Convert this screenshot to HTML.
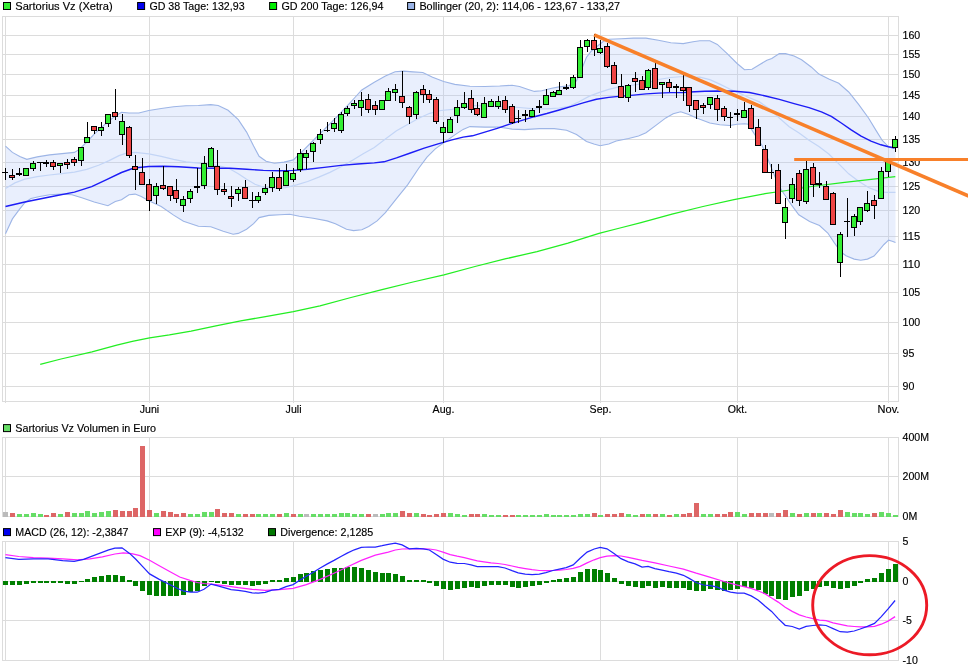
<!DOCTYPE html>
<html><head><meta charset="utf-8"><title>Chart</title>
<style>html,body{margin:0;padding:0;background:#fff}svg{display:block;will-change:transform}</style></head>
<body>
<svg width="968" height="670" viewBox="0 0 968 670" font-family="Liberation Sans, sans-serif" font-size="10.3" fill="#000"><style>text{stroke:#000;stroke-width:0.15px}</style>
<rect width="968" height="670" fill="#fff"/>
<line x1="2.5" y1="35.5" x2="898.5" y2="35.5" stroke="#dcdcdc" stroke-width="1"/>
<line x1="2.5" y1="54.5" x2="898.5" y2="54.5" stroke="#dcdcdc" stroke-width="1"/>
<line x1="2.5" y1="74.5" x2="898.5" y2="74.5" stroke="#dcdcdc" stroke-width="1"/>
<line x1="2.5" y1="95.5" x2="898.5" y2="95.5" stroke="#dcdcdc" stroke-width="1"/>
<line x1="2.5" y1="116.5" x2="898.5" y2="116.5" stroke="#dcdcdc" stroke-width="1"/>
<line x1="2.5" y1="139.5" x2="898.5" y2="139.5" stroke="#dcdcdc" stroke-width="1"/>
<line x1="2.5" y1="162.5" x2="898.5" y2="162.5" stroke="#dcdcdc" stroke-width="1"/>
<line x1="2.5" y1="186.5" x2="898.5" y2="186.5" stroke="#dcdcdc" stroke-width="1"/>
<line x1="2.5" y1="210.5" x2="898.5" y2="210.5" stroke="#dcdcdc" stroke-width="1"/>
<line x1="2.5" y1="236.5" x2="898.5" y2="236.5" stroke="#dcdcdc" stroke-width="1"/>
<line x1="2.5" y1="264.5" x2="898.5" y2="264.5" stroke="#dcdcdc" stroke-width="1"/>
<line x1="2.5" y1="292.5" x2="898.5" y2="292.5" stroke="#dcdcdc" stroke-width="1"/>
<line x1="2.5" y1="322.5" x2="898.5" y2="322.5" stroke="#dcdcdc" stroke-width="1"/>
<line x1="2.5" y1="353.5" x2="898.5" y2="353.5" stroke="#dcdcdc" stroke-width="1"/>
<line x1="2.5" y1="386.5" x2="898.5" y2="386.5" stroke="#dcdcdc" stroke-width="1"/>
<line x1="5.5" y1="16.5" x2="5.5" y2="403.0" stroke="#dcdcdc" stroke-width="1"/>
<line x1="149.5" y1="16.5" x2="149.5" y2="403.0" stroke="#dcdcdc" stroke-width="1"/>
<line x1="293.5" y1="16.5" x2="293.5" y2="403.0" stroke="#dcdcdc" stroke-width="1"/>
<line x1="443.5" y1="16.5" x2="443.5" y2="403.0" stroke="#dcdcdc" stroke-width="1"/>
<line x1="600.5" y1="16.5" x2="600.5" y2="403.0" stroke="#dcdcdc" stroke-width="1"/>
<line x1="737.5" y1="16.5" x2="737.5" y2="403.0" stroke="#dcdcdc" stroke-width="1"/>
<line x1="888.5" y1="16.5" x2="888.5" y2="403.0" stroke="#dcdcdc" stroke-width="1"/>
<rect x="2.5" y="16.5" width="896.0" height="385.0" fill="none" stroke="#dcdcdc" stroke-width="1"/>
<polygon points="5.5,146.2 12.4,152.4 19.8,156.4 26.8,159.3 37.2,156.9 49.6,154.9 62.0,153.6 74.4,152.4 79.3,149.4 86.8,142.0 94.2,134.1 101.7,127.1 109.1,120.9 115.3,116.0 121.5,112.2 129.0,113.0 138.9,113.0 148.8,110.5 161.2,108.5 173.6,106.8 186.0,105.8 198.4,105.5 210.8,104.6 218.2,105.5 228.1,110.3 238.3,119.7 246.6,132.1 253.6,146.0 259.1,156.3 266.1,161.3 274.4,163.2 284.1,162.1 293.3,159.9 302.1,151.6 313.2,140.5 324.3,129.4 335.4,118.3 346.5,106.6 354.9,97.5 361.8,90.0 374.3,82.2 385.4,76.1 395.1,71.7 403.4,71.1 413.1,71.9 422.8,72.5 432.6,77.2 443.7,81.6 454.8,84.4 469.9,86.2 484.8,86.5 499.7,86.0 512.1,85.2 519.5,86.5 528.2,89.4 534.4,91.4 541.8,90.7 551.7,88.2 559.2,86.9 569.1,85.7 576.5,80.8 581.5,69.6 586.5,57.2 591.4,51.0 597.6,46.0 603.8,41.1 608.8,39.3 621.2,38.8 633.6,38.1 646.0,38.1 658.4,40.3 670.8,42.8 683.2,43.6 693.1,41.8 699.9,40.7 709.8,40.7 717.3,44.4 727.2,53.6 737.1,63.5 744.5,69.7 752.0,69.2 759.4,64.7 766.9,60.3 771.8,58.5 779.3,53.6 785.5,53.6 794.1,56.0 801.6,59.8 811.5,67.2 818.9,74.1 828.8,79.1 838.8,83.3 848.7,92.0 858.6,104.4 868.5,118.0 876.0,130.4 882.3,140.5 888.6,146.8 895.5,148.0 895.5,242.4 892.2,241.2 888.6,240.1 884.0,244.5 879.0,250.3 874.0,256.1 867.4,259.1 860.8,260.2 854.2,259.1 846.0,255.8 841.0,252.0 834.4,242.9 827.8,233.0 819.5,225.5 809.6,221.4 798.8,214.8 791.4,204.9 784.8,195.0 781.7,190.5 776.8,181.3 771.8,168.9 766.9,156.5 761.9,145.3 754.5,134.1 748.3,124.2 744.5,123.7 737.1,124.2 729.7,125.5 719.8,124.7 709.8,123.0 699.9,119.3 695.5,117.4 688.1,114.2 680.7,111.7 673.2,113.7 665.8,117.9 655.9,125.4 646.0,132.8 638.5,136.0 628.6,138.5 616.2,141.0 608.8,144.0 600.1,145.7 593.9,144.0 586.5,141.5 576.5,134.6 566.6,130.3 554.2,128.6 539.3,128.6 524.5,129.6 512.1,129.1 499.7,127.1 484.8,127.1 469.9,126.6 463.1,129.4 454.8,134.9 443.7,142.7 435.3,148.8 427.0,157.1 418.7,168.2 407.6,184.9 396.5,198.7 385.4,212.6 377.1,220.9 368.7,226.5 361.8,229.8 353.5,230.6 346.5,229.3 335.4,223.7 327.1,220.9 313.2,218.2 299.4,216.2 289.7,214.3 279.9,214.8 268.8,215.4 259.1,217.6 253.6,223.7 246.6,229.3 238.3,233.4 233.1,234.2 223.2,231.3 210.8,226.8 198.4,226.3 183.5,221.3 173.6,215.1 161.2,206.5 148.8,200.8 141.3,196.5 135.1,194.1 129.0,194.8 121.5,199.8 115.3,201.5 107.9,205.7 94.2,202.0 81.8,197.8 71.9,194.8 62.0,194.1 49.6,194.8 39.7,196.5 31.0,198.5 24.8,202.7 19.8,208.9 12.4,218.9 5.5,233.7" fill="rgb(170,195,247)" fill-opacity="0.26"/>
<polyline points="5.5,188.6 14.9,182.9 24.8,179.2 37.2,176.7 49.6,175.0 62.0,173.7 74.4,172.2 86.8,169.3 99.2,165.0 109.1,160.6 119.0,155.6 126.5,153.1 135.1,152.4 148.8,153.9 161.2,156.4 173.6,159.3 186.0,161.8 198.4,163.1 210.8,164.3 223.2,166.8 230.0,169.0 238.3,173.8 246.6,179.3 255.0,184.3 263.3,187.1 274.4,188.5 285.5,187.6 296.6,184.9 307.7,181.5 318.8,177.1 329.9,172.4 341.0,166.8 352.1,160.4 363.2,153.8 374.3,147.4 385.4,139.1 396.5,130.8 407.6,124.4 418.7,118.3 429.8,113.3 440.9,110.5 452.0,109.4 463.1,107.2 474.9,105.5 489.8,106.3 504.6,106.8 519.5,107.5 534.4,108.8 546.8,108.8 559.2,108.0 569.1,106.3 579.0,101.8 588.9,96.4 598.8,92.6 608.8,89.4 621.2,86.4 633.6,85.0 646.0,83.2 658.4,79.5 670.8,77.5 683.2,76.5 693.1,77.5 699.9,77.1 709.8,79.6 719.8,84.1 729.7,89.0 739.6,93.2 749.5,97.7 759.4,101.9 769.3,108.8 779.3,118.0 789.2,126.7 799.1,132.9 809.0,140.3 818.9,146.5 828.8,154.0 838.8,163.9 848.7,173.8 858.6,181.3 868.5,187.5 878.4,191.4 885.9,192.4 895.5,192.4" fill="none" stroke="#c3d5f6" stroke-width="1.2"/>
<polyline points="5.5,146.2 12.4,152.4 19.8,156.4 26.8,159.3 37.2,156.9 49.6,154.9 62.0,153.6 74.4,152.4 79.3,149.4 86.8,142.0 94.2,134.1 101.7,127.1 109.1,120.9 115.3,116.0 121.5,112.2 129.0,113.0 138.9,113.0 148.8,110.5 161.2,108.5 173.6,106.8 186.0,105.8 198.4,105.5 210.8,104.6 218.2,105.5 228.1,110.3 238.3,119.7 246.6,132.1 253.6,146.0 259.1,156.3 266.1,161.3 274.4,163.2 284.1,162.1 293.3,159.9 302.1,151.6 313.2,140.5 324.3,129.4 335.4,118.3 346.5,106.6 354.9,97.5 361.8,90.0 374.3,82.2 385.4,76.1 395.1,71.7 403.4,71.1 413.1,71.9 422.8,72.5 432.6,77.2 443.7,81.6 454.8,84.4 469.9,86.2 484.8,86.5 499.7,86.0 512.1,85.2 519.5,86.5 528.2,89.4 534.4,91.4 541.8,90.7 551.7,88.2 559.2,86.9 569.1,85.7 576.5,80.8 581.5,69.6 586.5,57.2 591.4,51.0 597.6,46.0 603.8,41.1 608.8,39.3 621.2,38.8 633.6,38.1 646.0,38.1 658.4,40.3 670.8,42.8 683.2,43.6 693.1,41.8 699.9,40.7 709.8,40.7 717.3,44.4 727.2,53.6 737.1,63.5 744.5,69.7 752.0,69.2 759.4,64.7 766.9,60.3 771.8,58.5 779.3,53.6 785.5,53.6 794.1,56.0 801.6,59.8 811.5,67.2 818.9,74.1 828.8,79.1 838.8,83.3 848.7,92.0 858.6,104.4 868.5,118.0 876.0,130.4 882.3,140.5 888.6,146.8 895.5,148.0" fill="none" stroke="#9db5e6" stroke-width="1.1"/>
<polyline points="5.5,233.7 12.4,218.9 19.8,208.9 24.8,202.7 31.0,198.5 39.7,196.5 49.6,194.8 62.0,194.1 71.9,194.8 81.8,197.8 94.2,202.0 107.9,205.7 115.3,201.5 121.5,199.8 129.0,194.8 135.1,194.1 141.3,196.5 148.8,200.8 161.2,206.5 173.6,215.1 183.5,221.3 198.4,226.3 210.8,226.8 223.2,231.3 233.1,234.2 238.3,233.4 246.6,229.3 253.6,223.7 259.1,217.6 268.8,215.4 279.9,214.8 289.7,214.3 299.4,216.2 313.2,218.2 327.1,220.9 335.4,223.7 346.5,229.3 353.5,230.6 361.8,229.8 368.7,226.5 377.1,220.9 385.4,212.6 396.5,198.7 407.6,184.9 418.7,168.2 427.0,157.1 435.3,148.8 443.7,142.7 454.8,134.9 463.1,129.4 469.9,126.6 484.8,127.1 499.7,127.1 512.1,129.1 524.5,129.6 539.3,128.6 554.2,128.6 566.6,130.3 576.5,134.6 586.5,141.5 593.9,144.0 600.1,145.7 608.8,144.0 616.2,141.0 628.6,138.5 638.5,136.0 646.0,132.8 655.9,125.4 665.8,117.9 673.2,113.7 680.7,111.7 688.1,114.2 695.5,117.4 699.9,119.3 709.8,123.0 719.8,124.7 729.7,125.5 737.1,124.2 744.5,123.7 748.3,124.2 754.5,134.1 761.9,145.3 766.9,156.5 771.8,168.9 776.8,181.3 781.7,190.5 784.8,195.0 791.4,204.9 798.8,214.8 809.6,221.4 819.5,225.5 827.8,233.0 834.4,242.9 841.0,252.0 846.0,255.8 854.2,259.1 860.8,260.2 867.4,259.1 874.0,256.1 879.0,250.3 884.0,244.5 888.6,240.1 892.2,241.2 895.5,242.4" fill="none" stroke="#9db5e6" stroke-width="1.1"/>
<polyline points="40.2,364.3 61.0,359.0 92.0,351.9 116.8,345.1 132.3,341.4 149.6,337.9 169.4,334.9 191.1,331.1 215.9,325.9 240.7,320.9 265.5,316.6 293.4,311.6 320.0,305.8 351.0,297.5 382.0,289.7 413.0,282.0 444.0,274.9 475.0,266.5 506.0,258.7 537.0,251.6 568.0,243.2 599.0,233.3 620.0,228.0 641.0,222.6 672.0,214.2 703.0,206.5 734.0,199.7 765.0,193.7 783.5,191.0 811.4,186.5 842.4,182.6 873.4,179.2 895.3,176.6" fill="none" stroke="#22ee22" stroke-width="1.25"/>
<polyline points="5.5,206.5 24.8,202.0 49.6,197.0 74.4,192.1 91.7,186.6 106.6,179.7 121.5,172.5 133.9,168.0 148.8,166.5 163.6,166.3 178.5,166.8 198.4,168.0 218.2,168.3 230.0,168.2 246.6,169.3 263.3,170.4 279.9,170.7 293.8,170.4 307.7,169.3 324.3,167.4 341.0,165.4 357.6,164.0 374.3,162.9 384.0,161.8 396.5,157.9 410.4,153.0 424.2,148.2 438.1,143.8 452.0,139.9 463.1,137.1 472.4,135.8 484.8,132.1 497.2,128.4 509.6,124.1 522.0,120.4 534.4,116.7 546.8,113.5 559.2,110.0 571.6,106.3 584.0,102.6 596.4,99.3 608.8,97.4 618.7,96.4 633.6,95.1 646.0,93.9 658.4,93.1 670.8,92.6 683.2,92.6 690.0,92.0 704.9,91.2 719.8,91.0 734.6,91.2 749.5,92.5 764.4,95.7 779.3,99.4 794.1,103.6 809.0,107.6 821.4,111.8 831.3,116.3 841.3,123.0 851.2,129.9 861.1,136.1 871.0,141.1 880.9,144.8 888.4,146.8 894.5,148.0" fill="none" stroke="#1c1cf6" stroke-width="1.4" stroke-linejoin="round"/>
<g shape-rendering="crispEdges">
<rect x="5" y="168" width="1" height="12" fill="#000"/>
<rect x="2" y="172" width="6" height="1" fill="#000"/>
<rect x="12" y="169" width="1" height="11" fill="#000"/>
<rect x="9" y="175" width="6" height="3" fill="#000"/>
<rect x="10" y="176" width="4" height="1" fill="#ee4444"/>
<rect x="19" y="168" width="1" height="8" fill="#000"/>
<rect x="16" y="173" width="6" height="2" fill="#000"/>
<rect x="26" y="169" width="1" height="7" fill="#000"/>
<rect x="23" y="168" width="6" height="8" fill="#000"/>
<rect x="24" y="169" width="4" height="6" fill="#33ee33"/>
<rect x="33" y="161" width="1" height="10" fill="#000"/>
<rect x="30" y="163" width="6" height="6" fill="#000"/>
<rect x="31" y="164" width="4" height="4" fill="#33ee33"/>
<rect x="40" y="162" width="1" height="9" fill="#000"/>
<rect x="37" y="162" width="6" height="1" fill="#000"/>
<rect x="46" y="160" width="1" height="7" fill="#000"/>
<rect x="43" y="162" width="6" height="2" fill="#000"/>
<rect x="53" y="160" width="1" height="10" fill="#000"/>
<rect x="50" y="162" width="6" height="5" fill="#000"/>
<rect x="51" y="163" width="4" height="3" fill="#ee4444"/>
<rect x="60" y="164" width="1" height="9" fill="#000"/>
<rect x="57" y="163" width="6" height="3" fill="#000"/>
<rect x="58" y="164" width="4" height="1" fill="#33ee33"/>
<rect x="67" y="159" width="1" height="10" fill="#000"/>
<rect x="64" y="162" width="6" height="3" fill="#000"/>
<rect x="65" y="163" width="4" height="1" fill="#ee4444"/>
<rect x="74" y="157" width="1" height="9" fill="#000"/>
<rect x="71" y="159" width="6" height="4" fill="#000"/>
<rect x="72" y="160" width="4" height="2" fill="#ee4444"/>
<rect x="81" y="147" width="1" height="19" fill="#000"/>
<rect x="78" y="147" width="6" height="14" fill="#000"/>
<rect x="79" y="148" width="4" height="12" fill="#33ee33"/>
<rect x="87" y="122" width="1" height="20" fill="#000"/>
<rect x="84" y="137" width="6" height="6" fill="#000"/>
<rect x="85" y="138" width="4" height="4" fill="#33ee33"/>
<rect x="94" y="127" width="1" height="7" fill="#000"/>
<rect x="91" y="126" width="6" height="5" fill="#000"/>
<rect x="92" y="127" width="4" height="3" fill="#ee4444"/>
<rect x="101" y="122" width="1" height="14" fill="#000"/>
<rect x="98" y="127" width="6" height="4" fill="#000"/>
<rect x="99" y="128" width="4" height="2" fill="#33ee33"/>
<rect x="108" y="114" width="1" height="13" fill="#000"/>
<rect x="105" y="114" width="6" height="10" fill="#000"/>
<rect x="106" y="115" width="4" height="8" fill="#33ee33"/>
<rect x="115" y="89" width="1" height="31" fill="#000"/>
<rect x="112" y="112" width="6" height="5" fill="#000"/>
<rect x="113" y="113" width="4" height="3" fill="#ee4444"/>
<rect x="122" y="114" width="1" height="31" fill="#000"/>
<rect x="119" y="121" width="6" height="14" fill="#000"/>
<rect x="120" y="122" width="4" height="12" fill="#33ee33"/>
<rect x="129" y="126" width="1" height="32" fill="#000"/>
<rect x="126" y="127" width="6" height="29" fill="#000"/>
<rect x="127" y="128" width="4" height="27" fill="#ee4444"/>
<rect x="135" y="155" width="1" height="35" fill="#000"/>
<rect x="132" y="166" width="6" height="4" fill="#000"/>
<rect x="133" y="167" width="4" height="2" fill="#ee4444"/>
<rect x="142" y="158" width="1" height="26" fill="#000"/>
<rect x="139" y="172" width="6" height="13" fill="#000"/>
<rect x="140" y="173" width="4" height="11" fill="#ee4444"/>
<rect x="149" y="179" width="1" height="32" fill="#000"/>
<rect x="146" y="184" width="6" height="17" fill="#000"/>
<rect x="147" y="185" width="4" height="15" fill="#ee4444"/>
<rect x="156" y="183" width="1" height="21" fill="#000"/>
<rect x="153" y="186" width="6" height="10" fill="#000"/>
<rect x="154" y="187" width="4" height="8" fill="#33ee33"/>
<rect x="163" y="166" width="1" height="24" fill="#000"/>
<rect x="160" y="185" width="6" height="4" fill="#000"/>
<rect x="161" y="186" width="4" height="2" fill="#ee4444"/>
<rect x="170" y="186" width="1" height="15" fill="#000"/>
<rect x="167" y="186" width="6" height="10" fill="#000"/>
<rect x="168" y="187" width="4" height="8" fill="#ee4444"/>
<rect x="176" y="179" width="1" height="24" fill="#000"/>
<rect x="173" y="190" width="6" height="9" fill="#000"/>
<rect x="174" y="191" width="4" height="7" fill="#ee4444"/>
<rect x="183" y="196" width="1" height="16" fill="#000"/>
<rect x="180" y="199" width="6" height="7" fill="#000"/>
<rect x="181" y="200" width="4" height="5" fill="#33ee33"/>
<rect x="190" y="189" width="1" height="14" fill="#000"/>
<rect x="187" y="191" width="6" height="8" fill="#000"/>
<rect x="188" y="192" width="4" height="6" fill="#33ee33"/>
<rect x="197" y="168" width="1" height="25" fill="#000"/>
<rect x="194" y="186" width="6" height="2" fill="#000"/>
<rect x="204" y="156" width="1" height="33" fill="#000"/>
<rect x="201" y="163" width="6" height="23" fill="#000"/>
<rect x="202" y="164" width="4" height="21" fill="#33ee33"/>
<rect x="211" y="147" width="1" height="19" fill="#000"/>
<rect x="208" y="148" width="6" height="19" fill="#000"/>
<rect x="209" y="149" width="4" height="17" fill="#33ee33"/>
<rect x="217" y="150" width="1" height="45" fill="#000"/>
<rect x="214" y="166" width="6" height="24" fill="#000"/>
<rect x="215" y="167" width="4" height="22" fill="#ee4444"/>
<rect x="224" y="183" width="1" height="12" fill="#000"/>
<rect x="221" y="189" width="6" height="3" fill="#000"/>
<rect x="222" y="190" width="4" height="1" fill="#ee4444"/>
<rect x="231" y="186" width="1" height="21" fill="#000"/>
<rect x="228" y="196" width="6" height="3" fill="#000"/>
<rect x="229" y="197" width="4" height="1" fill="#ee4444"/>
<rect x="238" y="187" width="1" height="14" fill="#000"/>
<rect x="235" y="189" width="6" height="5" fill="#000"/>
<rect x="236" y="190" width="4" height="3" fill="#33ee33"/>
<rect x="245" y="180" width="1" height="18" fill="#000"/>
<rect x="242" y="187" width="6" height="12" fill="#000"/>
<rect x="243" y="188" width="4" height="10" fill="#ee4444"/>
<rect x="252" y="192" width="1" height="16" fill="#000"/>
<rect x="249" y="200" width="6" height="1" fill="#000"/>
<rect x="258" y="192" width="1" height="11" fill="#000"/>
<rect x="255" y="196" width="6" height="5" fill="#000"/>
<rect x="256" y="197" width="4" height="3" fill="#33ee33"/>
<rect x="265" y="184" width="1" height="11" fill="#000"/>
<rect x="262" y="188" width="6" height="5" fill="#000"/>
<rect x="263" y="189" width="4" height="3" fill="#33ee33"/>
<rect x="272" y="172" width="1" height="20" fill="#000"/>
<rect x="269" y="177" width="6" height="11" fill="#000"/>
<rect x="270" y="178" width="4" height="9" fill="#33ee33"/>
<rect x="279" y="168" width="1" height="23" fill="#000"/>
<rect x="276" y="177" width="6" height="12" fill="#000"/>
<rect x="277" y="178" width="4" height="10" fill="#ee4444"/>
<rect x="286" y="164" width="1" height="22" fill="#000"/>
<rect x="283" y="171" width="6" height="15" fill="#000"/>
<rect x="284" y="172" width="4" height="13" fill="#33ee33"/>
<rect x="293" y="168" width="1" height="14" fill="#000"/>
<rect x="290" y="173" width="6" height="7" fill="#000"/>
<rect x="291" y="174" width="4" height="5" fill="#33ee33"/>
<rect x="300" y="149" width="1" height="23" fill="#000"/>
<rect x="297" y="153" width="6" height="17" fill="#000"/>
<rect x="298" y="154" width="4" height="15" fill="#33ee33"/>
<rect x="306" y="150" width="1" height="19" fill="#000"/>
<rect x="303" y="153" width="6" height="5" fill="#000"/>
<rect x="304" y="154" width="4" height="3" fill="#33ee33"/>
<rect x="313" y="142" width="1" height="20" fill="#000"/>
<rect x="310" y="143" width="6" height="9" fill="#000"/>
<rect x="311" y="144" width="4" height="7" fill="#33ee33"/>
<rect x="320" y="129" width="1" height="15" fill="#000"/>
<rect x="317" y="134" width="6" height="6" fill="#000"/>
<rect x="318" y="135" width="4" height="4" fill="#33ee33"/>
<rect x="327" y="122" width="1" height="10" fill="#000"/>
<rect x="324" y="130" width="6" height="1" fill="#000"/>
<rect x="334" y="118" width="1" height="14" fill="#000"/>
<rect x="331" y="123" width="6" height="6" fill="#000"/>
<rect x="332" y="124" width="4" height="4" fill="#33ee33"/>
<rect x="341" y="112" width="1" height="21" fill="#000"/>
<rect x="338" y="114" width="6" height="17" fill="#000"/>
<rect x="339" y="115" width="4" height="15" fill="#33ee33"/>
<rect x="347" y="106" width="1" height="10" fill="#000"/>
<rect x="344" y="108" width="6" height="6" fill="#000"/>
<rect x="345" y="109" width="4" height="4" fill="#33ee33"/>
<rect x="354" y="100" width="1" height="9" fill="#000"/>
<rect x="351" y="103" width="6" height="3" fill="#000"/>
<rect x="352" y="104" width="4" height="1" fill="#33ee33"/>
<rect x="361" y="92" width="1" height="24" fill="#000"/>
<rect x="358" y="100" width="6" height="8" fill="#000"/>
<rect x="359" y="101" width="4" height="6" fill="#33ee33"/>
<rect x="368" y="94" width="1" height="19" fill="#000"/>
<rect x="365" y="99" width="6" height="11" fill="#000"/>
<rect x="366" y="100" width="4" height="9" fill="#ee4444"/>
<rect x="375" y="101" width="1" height="14" fill="#000"/>
<rect x="372" y="105" width="6" height="5" fill="#000"/>
<rect x="373" y="106" width="4" height="3" fill="#ee4444"/>
<rect x="382" y="101" width="1" height="8" fill="#000"/>
<rect x="379" y="100" width="6" height="10" fill="#000"/>
<rect x="380" y="101" width="4" height="8" fill="#33ee33"/>
<rect x="388" y="88" width="1" height="13" fill="#000"/>
<rect x="385" y="91" width="6" height="10" fill="#000"/>
<rect x="386" y="92" width="4" height="8" fill="#33ee33"/>
<rect x="395" y="84" width="1" height="17" fill="#000"/>
<rect x="392" y="89" width="6" height="4" fill="#000"/>
<rect x="393" y="90" width="4" height="2" fill="#33ee33"/>
<rect x="402" y="71" width="1" height="37" fill="#000"/>
<rect x="399" y="96" width="6" height="7" fill="#000"/>
<rect x="400" y="97" width="4" height="5" fill="#ee4444"/>
<rect x="409" y="106" width="1" height="18" fill="#000"/>
<rect x="406" y="107" width="6" height="10" fill="#000"/>
<rect x="407" y="108" width="4" height="8" fill="#ee4444"/>
<rect x="416" y="91" width="1" height="28" fill="#000"/>
<rect x="413" y="92" width="6" height="23" fill="#000"/>
<rect x="414" y="93" width="4" height="21" fill="#33ee33"/>
<rect x="423" y="85" width="1" height="18" fill="#000"/>
<rect x="420" y="89" width="6" height="6" fill="#000"/>
<rect x="421" y="90" width="4" height="4" fill="#ee4444"/>
<rect x="429" y="90" width="1" height="13" fill="#000"/>
<rect x="426" y="94" width="6" height="6" fill="#000"/>
<rect x="427" y="95" width="4" height="4" fill="#ee4444"/>
<rect x="436" y="97" width="1" height="27" fill="#000"/>
<rect x="433" y="99" width="6" height="23" fill="#000"/>
<rect x="434" y="100" width="4" height="21" fill="#ee4444"/>
<rect x="443" y="122" width="1" height="21" fill="#000"/>
<rect x="440" y="127" width="6" height="6" fill="#000"/>
<rect x="441" y="128" width="4" height="4" fill="#33ee33"/>
<rect x="450" y="117" width="1" height="15" fill="#000"/>
<rect x="447" y="119" width="6" height="14" fill="#000"/>
<rect x="448" y="120" width="4" height="12" fill="#33ee33"/>
<rect x="457" y="100" width="1" height="23" fill="#000"/>
<rect x="454" y="107" width="6" height="9" fill="#000"/>
<rect x="455" y="108" width="4" height="7" fill="#33ee33"/>
<rect x="464" y="92" width="1" height="17" fill="#000"/>
<rect x="461" y="103" width="6" height="5" fill="#000"/>
<rect x="462" y="104" width="4" height="3" fill="#33ee33"/>
<rect x="471" y="90" width="1" height="23" fill="#000"/>
<rect x="468" y="98" width="6" height="12" fill="#000"/>
<rect x="469" y="99" width="4" height="10" fill="#ee4444"/>
<rect x="477" y="102" width="1" height="14" fill="#000"/>
<rect x="474" y="108" width="6" height="7" fill="#000"/>
<rect x="475" y="109" width="4" height="5" fill="#ee4444"/>
<rect x="484" y="97" width="1" height="20" fill="#000"/>
<rect x="481" y="103" width="6" height="15" fill="#000"/>
<rect x="482" y="104" width="4" height="13" fill="#33ee33"/>
<rect x="491" y="99" width="1" height="7" fill="#000"/>
<rect x="488" y="101" width="6" height="6" fill="#000"/>
<rect x="489" y="102" width="4" height="4" fill="#33ee33"/>
<rect x="498" y="96" width="1" height="13" fill="#000"/>
<rect x="495" y="101" width="6" height="6" fill="#000"/>
<rect x="496" y="102" width="4" height="4" fill="#33ee33"/>
<rect x="505" y="96" width="1" height="17" fill="#000"/>
<rect x="502" y="100" width="6" height="10" fill="#000"/>
<rect x="503" y="101" width="4" height="8" fill="#ee4444"/>
<rect x="512" y="104" width="1" height="20" fill="#000"/>
<rect x="509" y="106" width="6" height="17" fill="#000"/>
<rect x="510" y="107" width="4" height="15" fill="#ee4444"/>
<rect x="518" y="110" width="1" height="13" fill="#000"/>
<rect x="515" y="118" width="6" height="1" fill="#000"/>
<rect x="525" y="110" width="1" height="12" fill="#000"/>
<rect x="522" y="114" width="6" height="2" fill="#000"/>
<rect x="532" y="108" width="1" height="9" fill="#000"/>
<rect x="529" y="110" width="6" height="7" fill="#000"/>
<rect x="530" y="111" width="4" height="5" fill="#33ee33"/>
<rect x="539" y="100" width="1" height="13" fill="#000"/>
<rect x="536" y="106" width="6" height="2" fill="#000"/>
<rect x="546" y="89" width="1" height="15" fill="#000"/>
<rect x="543" y="95" width="6" height="10" fill="#000"/>
<rect x="544" y="96" width="4" height="8" fill="#33ee33"/>
<rect x="553" y="91" width="1" height="5" fill="#000"/>
<rect x="550" y="92" width="6" height="5" fill="#000"/>
<rect x="551" y="93" width="4" height="3" fill="#33ee33"/>
<rect x="559" y="82" width="1" height="13" fill="#000"/>
<rect x="556" y="90" width="6" height="5" fill="#000"/>
<rect x="557" y="91" width="4" height="3" fill="#33ee33"/>
<rect x="566" y="84" width="1" height="6" fill="#000"/>
<rect x="563" y="87" width="6" height="2" fill="#000"/>
<rect x="573" y="75" width="1" height="14" fill="#000"/>
<rect x="570" y="77" width="6" height="11" fill="#000"/>
<rect x="571" y="78" width="4" height="9" fill="#33ee33"/>
<rect x="580" y="40" width="1" height="38" fill="#000"/>
<rect x="577" y="47" width="6" height="31" fill="#000"/>
<rect x="578" y="48" width="4" height="29" fill="#33ee33"/>
<rect x="587" y="39" width="1" height="13" fill="#000"/>
<rect x="584" y="40" width="6" height="7" fill="#000"/>
<rect x="585" y="41" width="4" height="5" fill="#33ee33"/>
<rect x="594" y="34" width="1" height="22" fill="#000"/>
<rect x="591" y="40" width="6" height="10" fill="#000"/>
<rect x="592" y="41" width="4" height="8" fill="#ee4444"/>
<rect x="600" y="40" width="1" height="14" fill="#000"/>
<rect x="597" y="48" width="6" height="5" fill="#000"/>
<rect x="598" y="49" width="4" height="3" fill="#33ee33"/>
<rect x="607" y="43" width="1" height="25" fill="#000"/>
<rect x="604" y="46" width="6" height="21" fill="#000"/>
<rect x="605" y="47" width="4" height="19" fill="#ee4444"/>
<rect x="614" y="62" width="1" height="21" fill="#000"/>
<rect x="611" y="65" width="6" height="19" fill="#000"/>
<rect x="612" y="66" width="4" height="17" fill="#ee4444"/>
<rect x="621" y="74" width="1" height="23" fill="#000"/>
<rect x="618" y="86" width="6" height="12" fill="#000"/>
<rect x="619" y="87" width="4" height="10" fill="#ee4444"/>
<rect x="628" y="84" width="1" height="18" fill="#000"/>
<rect x="625" y="85" width="6" height="13" fill="#000"/>
<rect x="626" y="86" width="4" height="11" fill="#33ee33"/>
<rect x="635" y="72" width="1" height="20" fill="#000"/>
<rect x="632" y="78" width="6" height="4" fill="#000"/>
<rect x="633" y="79" width="4" height="2" fill="#ee4444"/>
<rect x="642" y="76" width="1" height="13" fill="#000"/>
<rect x="639" y="80" width="6" height="10" fill="#000"/>
<rect x="640" y="81" width="4" height="8" fill="#ee4444"/>
<rect x="648" y="69" width="1" height="21" fill="#000"/>
<rect x="645" y="70" width="6" height="18" fill="#000"/>
<rect x="646" y="71" width="4" height="16" fill="#33ee33"/>
<rect x="655" y="63" width="1" height="25" fill="#000"/>
<rect x="652" y="68" width="6" height="21" fill="#000"/>
<rect x="653" y="69" width="4" height="19" fill="#ee4444"/>
<rect x="662" y="82" width="1" height="16" fill="#000"/>
<rect x="659" y="82" width="6" height="3" fill="#000"/>
<rect x="660" y="83" width="4" height="1" fill="#33ee33"/>
<rect x="669" y="79" width="1" height="13" fill="#000"/>
<rect x="666" y="82" width="6" height="6" fill="#000"/>
<rect x="667" y="83" width="4" height="4" fill="#ee4444"/>
<rect x="676" y="84" width="1" height="14" fill="#000"/>
<rect x="673" y="86" width="6" height="2" fill="#000"/>
<rect x="683" y="75" width="1" height="26" fill="#000"/>
<rect x="680" y="87" width="6" height="4" fill="#000"/>
<rect x="681" y="88" width="4" height="2" fill="#ee4444"/>
<rect x="689" y="88" width="1" height="24" fill="#000"/>
<rect x="686" y="87" width="6" height="19" fill="#000"/>
<rect x="687" y="88" width="4" height="17" fill="#ee4444"/>
<rect x="696" y="100" width="1" height="19" fill="#000"/>
<rect x="693" y="100" width="6" height="10" fill="#000"/>
<rect x="694" y="101" width="4" height="8" fill="#ee4444"/>
<rect x="703" y="103" width="1" height="11" fill="#000"/>
<rect x="700" y="105" width="6" height="3" fill="#000"/>
<rect x="701" y="106" width="4" height="1" fill="#ee4444"/>
<rect x="710" y="97" width="1" height="12" fill="#000"/>
<rect x="707" y="97" width="6" height="8" fill="#000"/>
<rect x="708" y="98" width="4" height="6" fill="#33ee33"/>
<rect x="717" y="95" width="1" height="26" fill="#000"/>
<rect x="714" y="98" width="6" height="12" fill="#000"/>
<rect x="715" y="99" width="4" height="10" fill="#ee4444"/>
<rect x="724" y="106" width="1" height="15" fill="#000"/>
<rect x="721" y="108" width="6" height="9" fill="#000"/>
<rect x="722" y="109" width="4" height="7" fill="#ee4444"/>
<rect x="730" y="112" width="1" height="16" fill="#000"/>
<rect x="727" y="117" width="6" height="1" fill="#000"/>
<rect x="737" y="109" width="1" height="12" fill="#000"/>
<rect x="734" y="113" width="6" height="2" fill="#000"/>
<rect x="744" y="102" width="1" height="16" fill="#000"/>
<rect x="741" y="110" width="6" height="8" fill="#000"/>
<rect x="742" y="111" width="4" height="6" fill="#33ee33"/>
<rect x="751" y="105" width="1" height="23" fill="#000"/>
<rect x="748" y="108" width="6" height="21" fill="#000"/>
<rect x="749" y="109" width="4" height="19" fill="#ee4444"/>
<rect x="758" y="119" width="1" height="27" fill="#000"/>
<rect x="755" y="127" width="6" height="19" fill="#000"/>
<rect x="756" y="128" width="4" height="17" fill="#ee4444"/>
<rect x="765" y="145" width="1" height="27" fill="#000"/>
<rect x="762" y="149" width="6" height="24" fill="#000"/>
<rect x="763" y="150" width="4" height="22" fill="#ee4444"/>
<rect x="771" y="164" width="1" height="15" fill="#000"/>
<rect x="768" y="172" width="6" height="1" fill="#000"/>
<rect x="778" y="164" width="1" height="40" fill="#000"/>
<rect x="775" y="170" width="6" height="34" fill="#000"/>
<rect x="776" y="171" width="4" height="32" fill="#ee4444"/>
<rect x="785" y="198" width="1" height="41" fill="#000"/>
<rect x="782" y="207" width="6" height="16" fill="#000"/>
<rect x="783" y="208" width="4" height="14" fill="#33ee33"/>
<rect x="792" y="178" width="1" height="25" fill="#000"/>
<rect x="789" y="184" width="6" height="15" fill="#000"/>
<rect x="790" y="185" width="4" height="13" fill="#33ee33"/>
<rect x="799" y="170" width="1" height="36" fill="#000"/>
<rect x="796" y="173" width="6" height="28" fill="#000"/>
<rect x="797" y="174" width="4" height="26" fill="#ee4444"/>
<rect x="806" y="161" width="1" height="43" fill="#000"/>
<rect x="803" y="169" width="6" height="33" fill="#000"/>
<rect x="804" y="170" width="4" height="31" fill="#33ee33"/>
<rect x="813" y="163" width="1" height="34" fill="#000"/>
<rect x="810" y="167" width="6" height="18" fill="#000"/>
<rect x="811" y="168" width="4" height="16" fill="#ee4444"/>
<rect x="819" y="172" width="1" height="16" fill="#000"/>
<rect x="816" y="183" width="6" height="2" fill="#000"/>
<rect x="826" y="181" width="1" height="18" fill="#000"/>
<rect x="823" y="186" width="6" height="14" fill="#000"/>
<rect x="824" y="187" width="4" height="12" fill="#ee4444"/>
<rect x="833" y="192" width="1" height="32" fill="#000"/>
<rect x="830" y="193" width="6" height="32" fill="#000"/>
<rect x="831" y="194" width="4" height="30" fill="#ee4444"/>
<rect x="840" y="232" width="1" height="45" fill="#000"/>
<rect x="837" y="234" width="6" height="29" fill="#000"/>
<rect x="838" y="235" width="4" height="27" fill="#33ee33"/>
<rect x="847" y="198" width="1" height="39" fill="#000"/>
<rect x="844" y="221" width="6" height="1" fill="#000"/>
<rect x="854" y="214" width="1" height="22" fill="#000"/>
<rect x="851" y="216" width="6" height="12" fill="#000"/>
<rect x="852" y="217" width="4" height="10" fill="#33ee33"/>
<rect x="860" y="208" width="1" height="17" fill="#000"/>
<rect x="857" y="207" width="6" height="15" fill="#000"/>
<rect x="858" y="208" width="4" height="13" fill="#33ee33"/>
<rect x="867" y="191" width="1" height="21" fill="#000"/>
<rect x="864" y="203" width="6" height="8" fill="#000"/>
<rect x="865" y="204" width="4" height="6" fill="#33ee33"/>
<rect x="874" y="195" width="1" height="24" fill="#000"/>
<rect x="871" y="200" width="6" height="6" fill="#000"/>
<rect x="872" y="201" width="4" height="4" fill="#ee4444"/>
<rect x="881" y="167" width="1" height="31" fill="#000"/>
<rect x="878" y="171" width="6" height="28" fill="#000"/>
<rect x="879" y="172" width="4" height="26" fill="#33ee33"/>
<rect x="888" y="161" width="1" height="16" fill="#000"/>
<rect x="885" y="161" width="6" height="11" fill="#000"/>
<rect x="886" y="162" width="4" height="9" fill="#33ee33"/>
<rect x="895" y="136" width="1" height="16" fill="#000"/>
<rect x="892" y="139" width="6" height="9" fill="#000"/>
<rect x="893" y="140" width="4" height="7" fill="#33ee33"/>
</g>
<text x="902.5" y="39.0" textLength="17.7" lengthAdjust="spacingAndGlyphs">160</text>
<text x="902.5" y="58.0" textLength="17.7" lengthAdjust="spacingAndGlyphs">155</text>
<text x="902.5" y="78.0" textLength="17.7" lengthAdjust="spacingAndGlyphs">150</text>
<text x="902.5" y="99.0" textLength="17.7" lengthAdjust="spacingAndGlyphs">145</text>
<text x="902.5" y="120.0" textLength="17.7" lengthAdjust="spacingAndGlyphs">140</text>
<text x="902.5" y="143.0" textLength="17.7" lengthAdjust="spacingAndGlyphs">135</text>
<text x="902.5" y="166.0" textLength="17.7" lengthAdjust="spacingAndGlyphs">130</text>
<text x="902.5" y="190.0" textLength="17.7" lengthAdjust="spacingAndGlyphs">125</text>
<text x="902.5" y="214.0" textLength="17.7" lengthAdjust="spacingAndGlyphs">120</text>
<text x="902.5" y="240.0" textLength="17.7" lengthAdjust="spacingAndGlyphs">115</text>
<text x="902.5" y="268.0" textLength="17.7" lengthAdjust="spacingAndGlyphs">110</text>
<text x="902.5" y="296.0" textLength="17.7" lengthAdjust="spacingAndGlyphs">105</text>
<text x="902.5" y="326.0" textLength="17.7" lengthAdjust="spacingAndGlyphs">100</text>
<text x="902.5" y="357.0" textLength="11.8" lengthAdjust="spacingAndGlyphs">95</text>
<text x="902.5" y="390.0" textLength="11.8" lengthAdjust="spacingAndGlyphs">90</text>
<text x="139.8" y="412.5" textLength="19.4" lengthAdjust="spacingAndGlyphs">Juni</text>
<text x="285.6" y="412.5" textLength="15.9" lengthAdjust="spacingAndGlyphs">Juli</text>
<text x="432.6" y="412.5" textLength="21.8" lengthAdjust="spacingAndGlyphs">Aug.</text>
<text x="589.6" y="412.5" textLength="21.8" lengthAdjust="spacingAndGlyphs">Sep.</text>
<text x="727.8" y="412.5" textLength="19.4" lengthAdjust="spacingAndGlyphs">Okt.</text>
<text x="877.6" y="412.5" textLength="21.8" lengthAdjust="spacingAndGlyphs">Nov.</text>
<line x1="594.1" y1="34.9" x2="975" y2="198.8" stroke="#f8802a" stroke-width="3.6"/>
<line x1="794.2" y1="159.5" x2="975" y2="159.5" stroke="#f8802a" stroke-width="3.1"/>
<line x1="2.5" y1="476.5" x2="898.5" y2="476.5" stroke="#dcdcdc" stroke-width="1"/>
<line x1="5.5" y1="437.5" x2="5.5" y2="516.5" stroke="#dcdcdc" stroke-width="1"/>
<line x1="149.5" y1="437.5" x2="149.5" y2="516.5" stroke="#dcdcdc" stroke-width="1"/>
<line x1="293.5" y1="437.5" x2="293.5" y2="516.5" stroke="#dcdcdc" stroke-width="1"/>
<line x1="443.5" y1="437.5" x2="443.5" y2="516.5" stroke="#dcdcdc" stroke-width="1"/>
<line x1="600.5" y1="437.5" x2="600.5" y2="516.5" stroke="#dcdcdc" stroke-width="1"/>
<line x1="737.5" y1="437.5" x2="737.5" y2="516.5" stroke="#dcdcdc" stroke-width="1"/>
<line x1="888.5" y1="437.5" x2="888.5" y2="516.5" stroke="#dcdcdc" stroke-width="1"/>
<rect x="2.5" y="437.5" width="896.0" height="79.0" fill="none" stroke="#dcdcdc" stroke-width="1"/>
<g shape-rendering="crispEdges">
<rect x="3" y="512" width="5" height="5" fill="#bbbbbb"/>
<rect x="10" y="513" width="5" height="4" fill="#dd6666"/>
<rect x="17" y="514" width="5" height="3" fill="#66dd66"/>
<rect x="24" y="514" width="5" height="3" fill="#66dd66"/>
<rect x="31" y="513" width="5" height="4" fill="#66dd66"/>
<rect x="38" y="514" width="5" height="3" fill="#66dd66"/>
<rect x="44" y="515" width="5" height="2" fill="#dd6666"/>
<rect x="51" y="513" width="5" height="4" fill="#dd6666"/>
<rect x="58" y="514" width="5" height="3" fill="#66dd66"/>
<rect x="65" y="512" width="5" height="5" fill="#dd6666"/>
<rect x="72" y="513" width="5" height="4" fill="#66dd66"/>
<rect x="79" y="513" width="5" height="4" fill="#66dd66"/>
<rect x="85" y="511" width="5" height="6" fill="#66dd66"/>
<rect x="92" y="513" width="5" height="4" fill="#66dd66"/>
<rect x="99" y="512" width="5" height="5" fill="#66dd66"/>
<rect x="106" y="511" width="5" height="6" fill="#66dd66"/>
<rect x="113" y="510" width="5" height="7" fill="#dd6666"/>
<rect x="120" y="511" width="5" height="6" fill="#dd6666"/>
<rect x="127" y="511" width="5" height="6" fill="#dd6666"/>
<rect x="133" y="508" width="5" height="9" fill="#dd6666"/>
<rect x="140" y="446" width="5" height="71" fill="#dd6666"/>
<rect x="147" y="510" width="5" height="7" fill="#dd6666"/>
<rect x="154" y="513" width="5" height="4" fill="#66dd66"/>
<rect x="161" y="511" width="5" height="6" fill="#dd6666"/>
<rect x="168" y="512" width="5" height="5" fill="#dd6666"/>
<rect x="174" y="514" width="5" height="3" fill="#dd6666"/>
<rect x="181" y="513" width="5" height="4" fill="#dd6666"/>
<rect x="188" y="514" width="5" height="3" fill="#66dd66"/>
<rect x="195" y="514" width="5" height="3" fill="#66dd66"/>
<rect x="202" y="512" width="5" height="5" fill="#66dd66"/>
<rect x="209" y="512" width="5" height="5" fill="#66dd66"/>
<rect x="215" y="509" width="5" height="8" fill="#dd6666"/>
<rect x="222" y="513" width="5" height="4" fill="#dd6666"/>
<rect x="229" y="513" width="5" height="4" fill="#dd6666"/>
<rect x="236" y="514" width="5" height="3" fill="#66dd66"/>
<rect x="243" y="514" width="5" height="3" fill="#dd6666"/>
<rect x="250" y="514" width="5" height="3" fill="#dd6666"/>
<rect x="256" y="514" width="5" height="3" fill="#66dd66"/>
<rect x="263" y="514" width="5" height="3" fill="#66dd66"/>
<rect x="270" y="514" width="5" height="3" fill="#66dd66"/>
<rect x="277" y="514" width="5" height="3" fill="#dd6666"/>
<rect x="284" y="513" width="5" height="4" fill="#66dd66"/>
<rect x="291" y="514" width="5" height="3" fill="#dd6666"/>
<rect x="298" y="514" width="5" height="3" fill="#66dd66"/>
<rect x="304" y="514" width="5" height="3" fill="#bbbbbb"/>
<rect x="311" y="514" width="5" height="3" fill="#66dd66"/>
<rect x="318" y="514" width="5" height="3" fill="#66dd66"/>
<rect x="325" y="514" width="5" height="3" fill="#66dd66"/>
<rect x="332" y="514" width="5" height="3" fill="#66dd66"/>
<rect x="339" y="513" width="5" height="4" fill="#66dd66"/>
<rect x="345" y="513" width="5" height="4" fill="#66dd66"/>
<rect x="352" y="514" width="5" height="3" fill="#66dd66"/>
<rect x="359" y="514" width="5" height="3" fill="#66dd66"/>
<rect x="366" y="514" width="5" height="3" fill="#dd6666"/>
<rect x="373" y="514" width="5" height="3" fill="#bbbbbb"/>
<rect x="380" y="514" width="5" height="3" fill="#66dd66"/>
<rect x="386" y="513" width="5" height="4" fill="#66dd66"/>
<rect x="393" y="513" width="5" height="4" fill="#66dd66"/>
<rect x="400" y="511" width="5" height="6" fill="#dd6666"/>
<rect x="407" y="513" width="5" height="4" fill="#dd6666"/>
<rect x="414" y="513" width="5" height="4" fill="#66dd66"/>
<rect x="421" y="514" width="5" height="3" fill="#dd6666"/>
<rect x="427" y="515" width="5" height="2" fill="#dd6666"/>
<rect x="434" y="514" width="5" height="3" fill="#dd6666"/>
<rect x="441" y="513" width="5" height="4" fill="#dd6666"/>
<rect x="448" y="513" width="5" height="4" fill="#66dd66"/>
<rect x="455" y="514" width="5" height="3" fill="#66dd66"/>
<rect x="462" y="515" width="5" height="2" fill="#66dd66"/>
<rect x="469" y="514" width="5" height="3" fill="#dd6666"/>
<rect x="475" y="514" width="5" height="3" fill="#dd6666"/>
<rect x="482" y="514" width="5" height="3" fill="#66dd66"/>
<rect x="489" y="515" width="5" height="2" fill="#66dd66"/>
<rect x="496" y="515" width="5" height="2" fill="#66dd66"/>
<rect x="503" y="515" width="5" height="2" fill="#dd6666"/>
<rect x="510" y="515" width="5" height="2" fill="#dd6666"/>
<rect x="516" y="515" width="5" height="2" fill="#66dd66"/>
<rect x="523" y="515" width="5" height="2" fill="#66dd66"/>
<rect x="530" y="515" width="5" height="2" fill="#66dd66"/>
<rect x="537" y="515" width="5" height="2" fill="#66dd66"/>
<rect x="544" y="514" width="5" height="3" fill="#66dd66"/>
<rect x="551" y="515" width="5" height="2" fill="#66dd66"/>
<rect x="557" y="515" width="5" height="2" fill="#66dd66"/>
<rect x="564" y="515" width="5" height="2" fill="#66dd66"/>
<rect x="571" y="515" width="5" height="2" fill="#66dd66"/>
<rect x="578" y="514" width="5" height="3" fill="#66dd66"/>
<rect x="585" y="514" width="5" height="3" fill="#66dd66"/>
<rect x="592" y="513" width="5" height="4" fill="#dd6666"/>
<rect x="598" y="515" width="5" height="2" fill="#66dd66"/>
<rect x="605" y="514" width="5" height="3" fill="#dd6666"/>
<rect x="612" y="514" width="5" height="3" fill="#dd6666"/>
<rect x="619" y="513" width="5" height="4" fill="#dd6666"/>
<rect x="626" y="514" width="5" height="3" fill="#66dd66"/>
<rect x="633" y="515" width="5" height="2" fill="#66dd66"/>
<rect x="640" y="514" width="5" height="3" fill="#dd6666"/>
<rect x="646" y="514" width="5" height="3" fill="#66dd66"/>
<rect x="653" y="514" width="5" height="3" fill="#dd6666"/>
<rect x="660" y="514" width="5" height="3" fill="#66dd66"/>
<rect x="667" y="515" width="5" height="2" fill="#dd6666"/>
<rect x="674" y="514" width="5" height="3" fill="#66dd66"/>
<rect x="681" y="514" width="5" height="3" fill="#dd6666"/>
<rect x="687" y="513" width="5" height="4" fill="#dd6666"/>
<rect x="694" y="503" width="5" height="14" fill="#dd6666"/>
<rect x="701" y="514" width="5" height="3" fill="#66dd66"/>
<rect x="708" y="514" width="5" height="3" fill="#66dd66"/>
<rect x="715" y="514" width="5" height="3" fill="#dd6666"/>
<rect x="722" y="514" width="5" height="3" fill="#dd6666"/>
<rect x="728" y="512" width="5" height="5" fill="#dd6666"/>
<rect x="735" y="512" width="5" height="5" fill="#66dd66"/>
<rect x="742" y="514" width="5" height="3" fill="#66dd66"/>
<rect x="749" y="513" width="5" height="4" fill="#dd6666"/>
<rect x="756" y="513" width="5" height="4" fill="#dd6666"/>
<rect x="763" y="513" width="5" height="4" fill="#dd6666"/>
<rect x="769" y="513" width="5" height="4" fill="#bbbbbb"/>
<rect x="776" y="513" width="5" height="4" fill="#dd6666"/>
<rect x="783" y="510" width="5" height="7" fill="#dd6666"/>
<rect x="790" y="513" width="5" height="4" fill="#66dd66"/>
<rect x="797" y="514" width="5" height="3" fill="#dd6666"/>
<rect x="804" y="513" width="5" height="4" fill="#66dd66"/>
<rect x="811" y="513" width="5" height="4" fill="#dd6666"/>
<rect x="817" y="513" width="5" height="4" fill="#66dd66"/>
<rect x="824" y="513" width="5" height="4" fill="#dd6666"/>
<rect x="831" y="514" width="5" height="3" fill="#dd6666"/>
<rect x="838" y="510" width="5" height="7" fill="#dd6666"/>
<rect x="845" y="512" width="5" height="5" fill="#66dd66"/>
<rect x="852" y="513" width="5" height="4" fill="#66dd66"/>
<rect x="858" y="513" width="5" height="4" fill="#66dd66"/>
<rect x="865" y="514" width="5" height="3" fill="#66dd66"/>
<rect x="872" y="513" width="5" height="4" fill="#dd6666"/>
<rect x="879" y="512" width="5" height="5" fill="#66dd66"/>
<rect x="886" y="513" width="5" height="4" fill="#66dd66"/>
<rect x="893" y="515" width="5" height="2" fill="#66dd66"/>
</g>
<text x="902.5" y="441.0" textLength="26.5" lengthAdjust="spacingAndGlyphs">400M</text>
<text x="902.5" y="480.0" textLength="26.5" lengthAdjust="spacingAndGlyphs">200M</text>
<text x="902.5" y="520.0" textLength="14.7" lengthAdjust="spacingAndGlyphs">0M</text>
<line x1="2.5" y1="581.5" x2="898.5" y2="581.5" stroke="#dcdcdc" stroke-width="1"/>
<line x1="2.5" y1="620.5" x2="898.5" y2="620.5" stroke="#dcdcdc" stroke-width="1"/>
<line x1="5.5" y1="541.5" x2="5.5" y2="660.5" stroke="#dcdcdc" stroke-width="1"/>
<line x1="149.5" y1="541.5" x2="149.5" y2="660.5" stroke="#dcdcdc" stroke-width="1"/>
<line x1="293.5" y1="541.5" x2="293.5" y2="660.5" stroke="#dcdcdc" stroke-width="1"/>
<line x1="443.5" y1="541.5" x2="443.5" y2="660.5" stroke="#dcdcdc" stroke-width="1"/>
<line x1="600.5" y1="541.5" x2="600.5" y2="660.5" stroke="#dcdcdc" stroke-width="1"/>
<line x1="737.5" y1="541.5" x2="737.5" y2="660.5" stroke="#dcdcdc" stroke-width="1"/>
<line x1="888.5" y1="541.5" x2="888.5" y2="660.5" stroke="#dcdcdc" stroke-width="1"/>
<rect x="2.5" y="541.5" width="896.0" height="119.0" fill="none" stroke="#dcdcdc" stroke-width="1"/>
<g shape-rendering="crispEdges">
<rect x="3" y="581" width="5" height="4" fill="#007f00"/>
<rect x="10" y="581" width="5" height="4" fill="#007f00"/>
<rect x="17" y="581" width="5" height="4" fill="#007f00"/>
<rect x="24" y="581" width="5" height="3" fill="#007f00"/>
<rect x="31" y="581" width="5" height="2" fill="#007f00"/>
<rect x="38" y="581" width="5" height="2" fill="#007f00"/>
<rect x="44" y="581" width="5" height="2" fill="#007f00"/>
<rect x="51" y="581" width="5" height="2" fill="#007f00"/>
<rect x="58" y="581" width="5" height="2" fill="#007f00"/>
<rect x="65" y="581" width="5" height="3" fill="#007f00"/>
<rect x="72" y="581" width="5" height="3" fill="#007f00"/>
<rect x="79" y="581" width="5" height="1" fill="#007f00"/>
<rect x="85" y="579" width="5" height="3" fill="#007f00"/>
<rect x="92" y="577" width="5" height="5" fill="#007f00"/>
<rect x="99" y="576" width="5" height="6" fill="#007f00"/>
<rect x="106" y="575" width="5" height="7" fill="#007f00"/>
<rect x="113" y="575" width="5" height="7" fill="#007f00"/>
<rect x="120" y="576" width="5" height="6" fill="#007f00"/>
<rect x="127" y="580" width="5" height="2" fill="#007f00"/>
<rect x="133" y="581" width="5" height="5" fill="#007f00"/>
<rect x="140" y="581" width="5" height="10" fill="#007f00"/>
<rect x="147" y="581" width="5" height="14" fill="#007f00"/>
<rect x="154" y="581" width="5" height="15" fill="#007f00"/>
<rect x="161" y="581" width="5" height="15" fill="#007f00"/>
<rect x="168" y="581" width="5" height="15" fill="#007f00"/>
<rect x="174" y="581" width="5" height="15" fill="#007f00"/>
<rect x="181" y="581" width="5" height="14" fill="#007f00"/>
<rect x="188" y="581" width="5" height="11" fill="#007f00"/>
<rect x="195" y="581" width="5" height="10" fill="#007f00"/>
<rect x="202" y="581" width="5" height="5" fill="#007f00"/>
<rect x="209" y="581" width="5" height="1" fill="#007f00"/>
<rect x="215" y="581" width="5" height="2" fill="#007f00"/>
<rect x="222" y="581" width="5" height="3" fill="#007f00"/>
<rect x="229" y="581" width="5" height="4" fill="#007f00"/>
<rect x="236" y="581" width="5" height="4" fill="#007f00"/>
<rect x="243" y="581" width="5" height="4" fill="#007f00"/>
<rect x="250" y="581" width="5" height="5" fill="#007f00"/>
<rect x="256" y="581" width="5" height="4" fill="#007f00"/>
<rect x="263" y="581" width="5" height="3" fill="#007f00"/>
<rect x="270" y="580" width="5" height="2" fill="#007f00"/>
<rect x="277" y="580" width="5" height="2" fill="#007f00"/>
<rect x="284" y="578" width="5" height="4" fill="#007f00"/>
<rect x="291" y="577" width="5" height="5" fill="#007f00"/>
<rect x="298" y="574" width="5" height="8" fill="#007f00"/>
<rect x="304" y="573" width="5" height="9" fill="#007f00"/>
<rect x="311" y="571" width="5" height="11" fill="#007f00"/>
<rect x="318" y="570" width="5" height="12" fill="#007f00"/>
<rect x="325" y="569" width="5" height="13" fill="#007f00"/>
<rect x="332" y="568" width="5" height="14" fill="#007f00"/>
<rect x="339" y="568" width="5" height="14" fill="#007f00"/>
<rect x="345" y="567" width="5" height="15" fill="#007f00"/>
<rect x="352" y="567" width="5" height="15" fill="#007f00"/>
<rect x="359" y="568" width="5" height="14" fill="#007f00"/>
<rect x="366" y="570" width="5" height="12" fill="#007f00"/>
<rect x="373" y="572" width="5" height="10" fill="#007f00"/>
<rect x="380" y="573" width="5" height="9" fill="#007f00"/>
<rect x="386" y="573" width="5" height="9" fill="#007f00"/>
<rect x="393" y="574" width="5" height="8" fill="#007f00"/>
<rect x="400" y="576" width="5" height="6" fill="#007f00"/>
<rect x="407" y="580" width="5" height="2" fill="#007f00"/>
<rect x="414" y="580" width="5" height="2" fill="#007f00"/>
<rect x="421" y="580" width="5" height="2" fill="#007f00"/>
<rect x="427" y="581" width="5" height="2" fill="#007f00"/>
<rect x="434" y="581" width="5" height="5" fill="#007f00"/>
<rect x="441" y="581" width="5" height="8" fill="#007f00"/>
<rect x="448" y="581" width="5" height="9" fill="#007f00"/>
<rect x="455" y="581" width="5" height="8" fill="#007f00"/>
<rect x="462" y="581" width="5" height="7" fill="#007f00"/>
<rect x="469" y="581" width="5" height="6" fill="#007f00"/>
<rect x="475" y="581" width="5" height="7" fill="#007f00"/>
<rect x="482" y="581" width="5" height="5" fill="#007f00"/>
<rect x="489" y="581" width="5" height="4" fill="#007f00"/>
<rect x="496" y="581" width="5" height="4" fill="#007f00"/>
<rect x="503" y="581" width="5" height="4" fill="#007f00"/>
<rect x="510" y="581" width="5" height="6" fill="#007f00"/>
<rect x="516" y="581" width="5" height="7" fill="#007f00"/>
<rect x="523" y="581" width="5" height="6" fill="#007f00"/>
<rect x="530" y="581" width="5" height="5" fill="#007f00"/>
<rect x="537" y="581" width="5" height="4" fill="#007f00"/>
<rect x="544" y="581" width="5" height="2" fill="#007f00"/>
<rect x="551" y="580" width="5" height="2" fill="#007f00"/>
<rect x="557" y="579" width="5" height="3" fill="#007f00"/>
<rect x="564" y="578" width="5" height="4" fill="#007f00"/>
<rect x="571" y="577" width="5" height="5" fill="#007f00"/>
<rect x="578" y="572" width="5" height="10" fill="#007f00"/>
<rect x="585" y="569" width="5" height="13" fill="#007f00"/>
<rect x="592" y="569" width="5" height="13" fill="#007f00"/>
<rect x="598" y="570" width="5" height="12" fill="#007f00"/>
<rect x="605" y="573" width="5" height="9" fill="#007f00"/>
<rect x="612" y="578" width="5" height="4" fill="#007f00"/>
<rect x="619" y="581" width="5" height="3" fill="#007f00"/>
<rect x="626" y="581" width="5" height="5" fill="#007f00"/>
<rect x="633" y="581" width="5" height="6" fill="#007f00"/>
<rect x="640" y="581" width="5" height="7" fill="#007f00"/>
<rect x="646" y="581" width="5" height="5" fill="#007f00"/>
<rect x="653" y="581" width="5" height="7" fill="#007f00"/>
<rect x="660" y="581" width="5" height="6" fill="#007f00"/>
<rect x="667" y="581" width="5" height="7" fill="#007f00"/>
<rect x="674" y="581" width="5" height="7" fill="#007f00"/>
<rect x="681" y="581" width="5" height="7" fill="#007f00"/>
<rect x="687" y="581" width="5" height="9" fill="#007f00"/>
<rect x="694" y="581" width="5" height="10" fill="#007f00"/>
<rect x="701" y="581" width="5" height="10" fill="#007f00"/>
<rect x="708" y="581" width="5" height="8" fill="#007f00"/>
<rect x="715" y="581" width="5" height="9" fill="#007f00"/>
<rect x="722" y="581" width="5" height="10" fill="#007f00"/>
<rect x="728" y="581" width="5" height="9" fill="#007f00"/>
<rect x="735" y="581" width="5" height="8" fill="#007f00"/>
<rect x="742" y="581" width="5" height="6" fill="#007f00"/>
<rect x="749" y="581" width="5" height="7" fill="#007f00"/>
<rect x="756" y="581" width="5" height="9" fill="#007f00"/>
<rect x="763" y="581" width="5" height="13" fill="#007f00"/>
<rect x="769" y="581" width="5" height="15" fill="#007f00"/>
<rect x="776" y="581" width="5" height="18" fill="#007f00"/>
<rect x="783" y="581" width="5" height="19" fill="#007f00"/>
<rect x="790" y="581" width="5" height="16" fill="#007f00"/>
<rect x="797" y="581" width="5" height="15" fill="#007f00"/>
<rect x="804" y="581" width="5" height="10" fill="#007f00"/>
<rect x="811" y="581" width="5" height="8" fill="#007f00"/>
<rect x="817" y="581" width="5" height="6" fill="#007f00"/>
<rect x="824" y="581" width="5" height="5" fill="#007f00"/>
<rect x="831" y="581" width="5" height="7" fill="#007f00"/>
<rect x="838" y="581" width="5" height="8" fill="#007f00"/>
<rect x="845" y="581" width="5" height="7" fill="#007f00"/>
<rect x="852" y="581" width="5" height="5" fill="#007f00"/>
<rect x="858" y="581" width="5" height="2" fill="#007f00"/>
<rect x="865" y="579" width="5" height="3" fill="#007f00"/>
<rect x="872" y="578" width="5" height="4" fill="#007f00"/>
<rect x="879" y="573" width="5" height="9" fill="#007f00"/>
<rect x="886" y="569" width="5" height="13" fill="#007f00"/>
<rect x="893" y="564" width="5" height="18" fill="#007f00"/>
</g>
<polyline points="5.4,554.7 18.8,556.5 33.4,557.6 48.1,558.2 62.7,558.8 77.3,559.9 89.9,558.8 102.4,556.8 114.9,554.0 123.3,553.0 131.7,553.6 140.0,555.7 149.6,560.3 158.8,565.5 170.1,571.8 179.7,577.0 190.0,580.4 197.2,582.5 204.0,583.5 211.1,584.1 224.1,585.6 238.3,587.7 252.2,589.3 265.2,590.3 279.3,589.7 293.1,588.3 306.3,584.6 320.2,579.4 334.0,573.2 347.2,567.0 361.3,560.4 375.3,555.2 388.3,552.1 395.3,550.0 402.1,549.0 409.3,548.8 423.4,548.8 429.4,549.0 436.2,550.0 443.0,552.1 450.2,554.6 457.1,556.2 464.3,557.7 471.1,559.3 477.3,560.8 483.9,561.8 491.0,562.9 498.0,563.5 505.0,564.5 512.0,566.0 518.2,567.4 525.2,568.6 532.1,569.7 539.3,570.5 545.9,570.7 552.9,570.5 559.3,570.1 566.2,569.5 573.2,568.4 580.1,566.4 587.1,562.9 594.2,559.8 600.2,557.7 607.0,556.2 614.0,555.6 621.0,556.0 628.3,557.3 642.1,560.4 654.9,562.9 669.0,566.0 683.4,569.1 696.2,573.2 710.5,577.3 724.1,581.5 737.4,585.2 751.2,588.3 758.0,590.8 765.2,593.9 771.6,598.0 778.2,602.1 785.2,607.3 792.2,611.4 799.3,614.9 806.1,617.0 812.9,618.6 819.5,620.1 826.1,620.7 833.1,622.8 840.2,624.4 847.4,625.9 854.2,626.5 860.2,626.9 867.4,626.9 874.5,626.3 881.3,624.2 888.1,621.1 895.1,616.6" fill="none" stroke="#ff22ff" stroke-width="1.25"/>
<polyline points="5.4,557.6 18.8,559.3 33.4,558.8 48.1,558.8 62.7,560.7 74.2,561.3 83.6,559.3 96.1,554.7 108.7,549.9 114.9,548.2 122.0,547.8 129.6,553.4 135.8,559.3 142.7,566.6 149.6,573.9 158.8,579.1 170.1,584.8 177.6,588.5 183.9,591.2 190.6,592.2 197.2,592.2 204.0,589.3 211.1,584.1 217.1,585.6 224.1,587.7 231.1,589.7 238.3,590.3 245.2,591.4 252.2,592.8 258.2,593.2 265.2,592.4 272.0,590.1 279.3,589.3 286.1,586.6 293.1,584.6 300.1,580.0 306.3,576.3 313.3,572.2 320.2,568.0 327.4,563.9 334.0,560.4 341.4,556.2 347.2,553.1 354.3,549.8 361.3,547.4 368.3,547.0 375.3,547.0 382.1,545.7 388.3,544.3 395.3,543.2 402.1,544.9 409.3,548.8 416.4,548.4 423.4,548.8 429.4,550.0 436.2,554.6 443.0,559.1 450.2,562.2 457.1,563.3 464.3,563.5 471.1,564.9 477.3,566.6 483.9,566.6 491.0,566.6 498.0,566.6 505.0,568.0 512.0,570.7 518.2,572.8 525.2,574.2 532.1,574.6 539.3,574.2 545.9,572.6 552.9,570.5 559.3,569.1 566.2,567.6 573.2,564.9 580.1,558.3 587.1,552.1 594.2,549.0 600.2,547.4 607.0,548.8 614.0,553.6 621.0,558.7 628.3,561.8 635.1,563.9 642.1,567.0 648.1,566.4 654.9,568.6 662.1,570.1 669.0,571.7 676.4,573.2 683.4,575.3 689.2,578.4 696.2,582.5 703.5,585.0 710.5,585.6 717.3,587.2 724.1,590.1 730.5,592.2 737.4,593.2 744.2,593.2 751.2,595.9 758.0,600.0 765.2,606.2 771.6,611.4 778.2,618.6 785.2,625.3 792.2,626.5 799.3,629.0 806.1,626.3 812.9,625.5 819.5,624.8 826.1,625.5 833.1,628.6 840.2,631.7 847.4,632.1 854.2,631.0 860.2,629.0 867.4,626.3 874.5,623.4 881.3,616.6 888.1,608.9 895.1,600.5" fill="none" stroke="#2424ff" stroke-width="1.25"/>
<text x="902.5" y="545.0" textLength="5.9" lengthAdjust="spacingAndGlyphs">5</text>
<text x="902.5" y="585.0" textLength="5.9" lengthAdjust="spacingAndGlyphs">0</text>
<text x="902.5" y="624.0" textLength="9.4" lengthAdjust="spacingAndGlyphs">-5</text>
<text x="902.5" y="664.0" textLength="15.3" lengthAdjust="spacingAndGlyphs">-10</text>
<ellipse cx="869.7" cy="605.2" rx="57.0" ry="49.6" fill="none" stroke="#ec1a26" stroke-width="2.9"/>
<rect x="3.5" y="2.5" width="7" height="7" fill="#33ee33" stroke="#000" stroke-width="1"/>
<text x="15.3" y="9.9" textLength="97.3" lengthAdjust="spacingAndGlyphs">Sartorius Vz (Xetra)</text>
<rect x="137.6" y="2.5" width="7" height="7" fill="#0000ee" stroke="#000" stroke-width="1"/>
<text x="149.4" y="9.9" textLength="95.2" lengthAdjust="spacingAndGlyphs">GD 38 Tage: 132,93</text>
<rect x="269.6" y="2.5" width="7" height="7" fill="#00ee00" stroke="#000" stroke-width="1"/>
<text x="281.4" y="9.9" textLength="102" lengthAdjust="spacingAndGlyphs">GD 200 Tage: 126,94</text>
<rect x="407.6" y="2.5" width="7" height="7" fill="#99b3e6" stroke="#000" stroke-width="1"/>
<text x="419.4" y="9.9" textLength="200.6" lengthAdjust="spacingAndGlyphs">Bollinger (20, 2): 114,06 - 123,67 - 133,27</text>
<rect x="3.5" y="424.6" width="7" height="7" fill="#66dd66" stroke="#000" stroke-width="1"/>
<text x="15.3" y="432.0" textLength="140.8" lengthAdjust="spacingAndGlyphs">Sartorius Vz Volumen in Euro</text>
<rect x="3.5" y="528.6" width="7" height="7" fill="#0000ee" stroke="#000" stroke-width="1"/>
<text x="15.3" y="536.0" textLength="113.2" lengthAdjust="spacingAndGlyphs">MACD (26, 12): -2,3847</text>
<rect x="153.5" y="528.6" width="7" height="7" fill="#ff00ff" stroke="#000" stroke-width="1"/>
<text x="165.3" y="536.0" textLength="78.4" lengthAdjust="spacingAndGlyphs">EXP (9): -4,5132</text>
<rect x="268.5" y="528.6" width="7" height="7" fill="#007700" stroke="#000" stroke-width="1"/>
<text x="280.3" y="536.0" textLength="93" lengthAdjust="spacingAndGlyphs">Divergence: 2,1285</text>
</svg>
</body></html>
